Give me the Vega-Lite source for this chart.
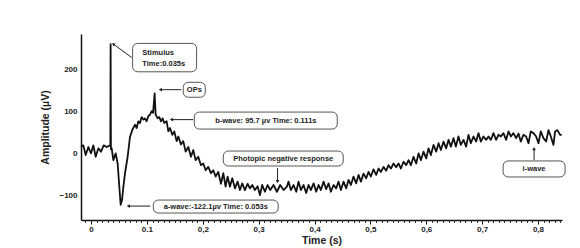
{
  "$schema": "https://vega.github.io/schema/vega-lite/v6.json",
  "width": 481,
  "height": 186,
  "autosize": {"type": "none"},
  "padding": {"left": 81, "top": 34, "right": 18, "bottom": 28},
  "background": "white",
  "config": {
    "view": {"stroke": null},
    "font": "Liberation Sans",
    "axis": {"labelFont": "Liberation Sans", "titleFont": "Liberation Sans", "labelFontWeight": "bold", "titleFontWeight": "bold", "labelColor": "#222", "titleColor": "#222", "domainColor": "#111", "domainWidth": 1.5, "tickColor": "#111", "grid": false}
  },
  "resolve": {"axis": {"x": "independent"}},
  "datasets": {
    "signal": [
      {"t": -0.0179, "v": 15}, {"t": -0.0138, "v": 19}, {"t": -0.0096, "v": -4}, {"t": -0.0048, "v": 15}, {"t": 0.0, "v": 0}, {"t": 0.0041, "v": 19}, {"t": 0.0083, "v": -8}, {"t": 0.0131, "v": 12}, {"t": 0.0178, "v": 4}, {"t": 0.0226, "v": 19}, {"t": 0.028, "v": 15}, {"t": 0.0339, "v": 19}, {"t": 0.0345, "v": 19}, {"t": 0.035, "v": 259}, {"t": 0.0356, "v": 10}, {"t": 0.0369, "v": 12}, {"t": 0.0399, "v": -16}, {"t": 0.0441, "v": 0}, {"t": 0.0476, "v": -24}, {"t": 0.0512, "v": -90}, {"t": 0.053, "v": -122}, {"t": 0.0555, "v": -110}, {"t": 0.0578, "v": -80}, {"t": 0.0608, "v": -47}, {"t": 0.0655, "v": -8}, {"t": 0.0697, "v": 39}, {"t": 0.0739, "v": 56}, {"t": 0.0787, "v": 68}, {"t": 0.0816, "v": 60}, {"t": 0.0846, "v": 76}, {"t": 0.0876, "v": 72}, {"t": 0.0906, "v": 86}, {"t": 0.0936, "v": 80}, {"t": 0.0965, "v": 83}, {"t": 0.0995, "v": 76}, {"t": 0.1025, "v": 88}, {"t": 0.1055, "v": 92}, {"t": 0.1085, "v": 100}, {"t": 0.111, "v": 96}, {"t": 0.1138, "v": 142}, {"t": 0.1156, "v": 92}, {"t": 0.1192, "v": 83}, {"t": 0.1222, "v": 86}, {"t": 0.1252, "v": 76}, {"t": 0.1281, "v": 83}, {"t": 0.1311, "v": 72}, {"t": 0.1353, "v": 76}, {"t": 0.1383, "v": 52}, {"t": 0.1413, "v": 60}, {"t": 0.1454, "v": 44}, {"t": 0.149, "v": 52}, {"t": 0.1532, "v": 29}, {"t": 0.1562, "v": 40}, {"t": 0.1609, "v": 21}, {"t": 0.1651, "v": 29}, {"t": 0.1693, "v": 4}, {"t": 0.1741, "v": 15}, {"t": 0.1788, "v": -8}, {"t": 0.183, "v": 8}, {"t": 0.1872, "v": -16}, {"t": 0.1919, "v": -8}, {"t": 0.1967, "v": -28}, {"t": 0.2009, "v": -24}, {"t": 0.2051, "v": -40}, {"t": 0.2098, "v": -32}, {"t": 0.2146, "v": -47}, {"t": 0.2188, "v": -40}, {"t": 0.223, "v": -55}, {"t": 0.2277, "v": -44}, {"t": 0.2325, "v": -72}, {"t": 0.2367, "v": -47}, {"t": 0.2408, "v": -79}, {"t": 0.2444, "v": -55}, {"t": 0.2486, "v": -79}, {"t": 0.2528, "v": -59}, {"t": 0.2576, "v": -83}, {"t": 0.2623, "v": -67}, {"t": 0.2665, "v": -87}, {"t": 0.2707, "v": -71}, {"t": 0.2754, "v": -87}, {"t": 0.2802, "v": -72}, {"t": 0.2844, "v": -83}, {"t": 0.2886, "v": -75}, {"t": 0.2933, "v": -87}, {"t": 0.2981, "v": -78}, {"t": 0.3023, "v": -99}, {"t": 0.3064, "v": -75}, {"t": 0.3112, "v": -91}, {"t": 0.316, "v": -75}, {"t": 0.3208, "v": -87}, {"t": 0.3267, "v": -75}, {"t": 0.3327, "v": -91}, {"t": 0.3386, "v": -75}, {"t": 0.3446, "v": -87}, {"t": 0.3506, "v": -79}, {"t": 0.3535, "v": -67}, {"t": 0.3577, "v": -87}, {"t": 0.3625, "v": -75}, {"t": 0.3673, "v": -91}, {"t": 0.3714, "v": -67}, {"t": 0.3756, "v": -87}, {"t": 0.3804, "v": -75}, {"t": 0.3851, "v": -94}, {"t": 0.3893, "v": -75}, {"t": 0.3935, "v": -87}, {"t": 0.3983, "v": -71}, {"t": 0.403, "v": -91}, {"t": 0.4072, "v": -75}, {"t": 0.4114, "v": -87}, {"t": 0.4162, "v": -67}, {"t": 0.4209, "v": -85}, {"t": 0.4251, "v": -71}, {"t": 0.4293, "v": -91}, {"t": 0.4341, "v": -75}, {"t": 0.4388, "v": -83}, {"t": 0.443, "v": -67}, {"t": 0.4472, "v": -87}, {"t": 0.452, "v": -67}, {"t": 0.4567, "v": -83}, {"t": 0.4609, "v": -63}, {"t": 0.4651, "v": -75}, {"t": 0.4698, "v": -55}, {"t": 0.4746, "v": -71}, {"t": 0.4788, "v": -51}, {"t": 0.483, "v": -67}, {"t": 0.4877, "v": -48}, {"t": 0.4925, "v": -59}, {"t": 0.4967, "v": -44}, {"t": 0.5009, "v": -55}, {"t": 0.5056, "v": -38}, {"t": 0.5104, "v": -51}, {"t": 0.5146, "v": -36}, {"t": 0.5188, "v": -44}, {"t": 0.5235, "v": -32}, {"t": 0.5283, "v": -41}, {"t": 0.5325, "v": -28}, {"t": 0.5367, "v": -36}, {"t": 0.5414, "v": -24}, {"t": 0.5462, "v": -33}, {"t": 0.5504, "v": -24}, {"t": 0.5546, "v": -36}, {"t": 0.5593, "v": -20}, {"t": 0.5641, "v": -28}, {"t": 0.5683, "v": -16}, {"t": 0.5725, "v": -28}, {"t": 0.5772, "v": -8}, {"t": 0.582, "v": -24}, {"t": 0.5862, "v": 0}, {"t": 0.5904, "v": -16}, {"t": 0.5951, "v": 4}, {"t": 0.5999, "v": -12}, {"t": 0.6041, "v": 12}, {"t": 0.6083, "v": -4}, {"t": 0.613, "v": 20}, {"t": 0.6178, "v": 4}, {"t": 0.622, "v": 24}, {"t": 0.6262, "v": 8}, {"t": 0.6309, "v": 28}, {"t": 0.6357, "v": 12}, {"t": 0.6399, "v": 32}, {"t": 0.6441, "v": 16}, {"t": 0.6488, "v": 36}, {"t": 0.653, "v": 16}, {"t": 0.6577, "v": 40}, {"t": 0.6619, "v": 20}, {"t": 0.6667, "v": 32}, {"t": 0.6714, "v": 16}, {"t": 0.6756, "v": 44}, {"t": 0.6798, "v": 24}, {"t": 0.6845, "v": 40}, {"t": 0.6893, "v": 28}, {"t": 0.6935, "v": 48}, {"t": 0.6977, "v": 28}, {"t": 0.7024, "v": 40}, {"t": 0.7072, "v": 32}, {"t": 0.7114, "v": 40}, {"t": 0.7156, "v": 32}, {"t": 0.7203, "v": 48}, {"t": 0.7251, "v": 32}, {"t": 0.7293, "v": 44}, {"t": 0.7335, "v": 40}, {"t": 0.7382, "v": 48}, {"t": 0.743, "v": 32}, {"t": 0.7472, "v": 52}, {"t": 0.7514, "v": 40}, {"t": 0.7561, "v": 48}, {"t": 0.7609, "v": 36}, {"t": 0.7651, "v": 47}, {"t": 0.7692, "v": 28}, {"t": 0.774, "v": 44}, {"t": 0.7788, "v": 40}, {"t": 0.783, "v": 24}, {"t": 0.7871, "v": 52}, {"t": 0.7919, "v": 48}, {"t": 0.7967, "v": 40}, {"t": 0.8009, "v": 24}, {"t": 0.805, "v": 52}, {"t": 0.8098, "v": 36}, {"t": 0.8146, "v": 28}, {"t": 0.8188, "v": 55}, {"t": 0.823, "v": 40}, {"t": 0.8277, "v": 20}, {"t": 0.8306, "v": 52}, {"t": 0.8348, "v": 55}, {"t": 0.8395, "v": 44}, {"t": 0.8425, "v": 44}
    ],
    "boxes": [
      {"name": "Stimulus", "x1": 0.0744, "x2": 0.1889, "y1": 193.4, "y2": 260.7},
      {"name": "OPs", "x1": 0.165, "x2": 0.2045, "y1": 133, "y2": 168.5},
      {"name": "b-wave", "x1": 0.1848, "x2": 0.4407, "y1": 57.6, "y2": 97.9},
      {"name": "a-wave", "x1": 0.1114, "x2": 0.3351, "y1": -141.5, "y2": -110.7},
      {"name": "PhNR", "x1": 0.2367, "x2": 0.4514, "y1": -30, "y2": 5.5},
      {"name": "i-wave", "x1": 0.7376, "x2": 0.8485, "y1": -56, "y2": -18}
    ],
    "labels": [
      {"text": "Stimulus", "x": 0.0918, "y": 237, "align": "left"},
      {"text": "Time:0.035s", "x": 0.0918, "y": 213, "align": "left"},
      {"text": "OPs", "x": 0.1848, "y": 151, "align": "center"},
      {"text": "b-wave: 95.7 µv Time: 0.111s", "x": 0.3128, "y": 77.7, "align": "center"},
      {"text": "a-wave:-122.1µv Time: 0.053s", "x": 0.2233, "y": -126, "align": "center"},
      {"text": "Photopic negative response", "x": 0.344, "y": -12.3, "align": "center"},
      {"text": "i-wave", "x": 0.793, "y": -37, "align": "center"}
    ],
    "arrows": [
      {"name": "Stimulus", "x": 0.0726, "y": 227.5, "hx": 0.0399, "hy": 259, "dir": "upleft"},
      {"name": "OPs", "x": 0.1615, "y": 151, "hx": 0.124, "hy": 151, "dir": "left"},
      {"name": "b-wave", "x": 0.183, "y": 80, "hx": 0.144, "hy": 80, "dir": "left"},
      {"name": "a-wave", "x": 0.106, "y": -125, "hx": 0.0667, "hy": -125, "dir": "left"},
      {"name": "PhNR", "x": 0.3338, "y": -35, "hx": 0.3338, "hy": -67, "dir": "down"},
      {"name": "i-wave", "x": 0.793, "y": -16, "hx": 0.793, "hy": 11, "dir": "up"}
    ]
  },
  "layer": [
    {
      "data": {"name": "signal"},
      "mark": {"type": "line", "color": "#111", "strokeWidth": 1.8, "strokeJoin": "round"},
      "encoding": {
        "x": {"field": "t", "type": "quantitative", "scale": {"domain": [-0.018, 0.843], "nice": false, "zero": false},
          "axis": {"orient": "bottom", "title": "Time (s)", "titleFontSize": 10.5, "titlePadding": 2, "labelFontSize": 8, "tickSize": 4, "labelPadding": 1,
            "values": [0, 0.1, 0.2, 0.3, 0.4, 0.5, 0.6, 0.7, 0.8],
            "labelExpr": "datum.value == 0 ? '0' : (datum.value < 0.15 ? '0.1' : replace(format(datum.value, '.1f'), '.', ','))",
            "labelFlush": false, "labelOverlap": false}},
        "y": {"field": "v", "type": "quantitative", "scale": {"domain": [-158, 283], "nice": false, "zero": false},
          "axis": {"title": "Amplitude (µV)", "titleFontSize": 10.5, "titlePadding": 8, "labelFontSize": 8, "ticks": false, "labelPadding": 4, "values": [-100, 0, 100, 200]}}
      }
    },
    {
      "data": {"name": "arrows"},
      "mark": {"type": "rule", "color": "#222", "strokeWidth": 1},
      "encoding": {
        "x": {"field": "x", "type": "quantitative",
          "axis": {"orient": "bottom", "title": null, "labels": false, "domain": false, "tickSize": 2.5, "tickColor": "#333",
            "values": [-0.01, 0.01, 0.02, 0.03, 0.04, 0.05, 0.06, 0.07, 0.08, 0.09, 0.11, 0.12, 0.13, 0.14, 0.15, 0.16, 0.17, 0.18, 0.19, 0.21, 0.22, 0.23, 0.24, 0.25, 0.26, 0.27, 0.28, 0.29, 0.31, 0.32, 0.33, 0.34, 0.35, 0.36, 0.37, 0.38, 0.39, 0.41, 0.42, 0.43, 0.44, 0.45, 0.46, 0.47, 0.48, 0.49, 0.51, 0.52, 0.53, 0.54, 0.55, 0.56, 0.57, 0.58, 0.59, 0.61, 0.62, 0.63, 0.64, 0.65, 0.66, 0.67, 0.68, 0.69, 0.71, 0.72, 0.73, 0.74, 0.75, 0.76, 0.77, 0.78, 0.79, 0.81, 0.82, 0.83, 0.84]}},
        "y": {"field": "y", "type": "quantitative"},
        "x2": {"field": "hx"},
        "y2": {"field": "hy"}
      }
    },
    {
      "data": {"name": "arrows"},
      "transform": [{"filter": "datum.dir == 'left'"}],
      "mark": {"type": "point", "shape": "triangle-left", "filled": true, "color": "#222", "size": 14, "opacity": 1},
      "encoding": {"x": {"field": "hx", "type": "quantitative", "axis": null}, "y": {"field": "hy", "type": "quantitative"}}
    },
    {
      "data": {"name": "arrows"},
      "transform": [{"filter": "datum.dir == 'up'"}],
      "mark": {"type": "point", "shape": "triangle-up", "filled": true, "color": "#222", "size": 14, "opacity": 1},
      "encoding": {"x": {"field": "hx", "type": "quantitative", "axis": null}, "y": {"field": "hy", "type": "quantitative"}}
    },
    {
      "data": {"name": "arrows"},
      "transform": [{"filter": "datum.dir == 'down'"}],
      "mark": {"type": "point", "shape": "triangle-down", "filled": true, "color": "#222", "size": 14, "opacity": 1},
      "encoding": {"x": {"field": "hx", "type": "quantitative", "axis": null}, "y": {"field": "hy", "type": "quantitative"}}
    },
    {
      "data": {"name": "arrows"},
      "transform": [{"filter": "datum.dir == 'upleft'"}],
      "mark": {"type": "point", "shape": "triangle-up", "angle": 306, "filled": true, "color": "#222", "size": 14, "opacity": 1},
      "encoding": {"x": {"field": "hx", "type": "quantitative", "axis": null}, "y": {"field": "hy", "type": "quantitative"}}
    },
    {
      "data": {"name": "boxes"},
      "mark": {"type": "rect", "fill": "white", "stroke": "#555", "strokeWidth": 1, "cornerRadius": 5, "clip": false},
      "encoding": {
        "x": {"field": "x1", "type": "quantitative", "axis": null},
        "x2": {"field": "x2"},
        "y": {"field": "y1", "type": "quantitative"},
        "y2": {"field": "y2"}
      }
    },
    {
      "data": {"name": "labels"},
      "transform": [{"filter": "datum.align == 'center'"}],
      "mark": {"type": "text", "font": "Liberation Sans", "fontWeight": "bold", "fontSize": 7.5, "color": "#222", "align": "center", "baseline": "middle"},
      "encoding": {"x": {"field": "x", "type": "quantitative", "axis": null}, "y": {"field": "y", "type": "quantitative"}, "text": {"field": "text"}}
    },
    {
      "data": {"name": "labels"},
      "transform": [{"filter": "datum.align == 'left'"}],
      "mark": {"type": "text", "font": "Liberation Sans", "fontWeight": "bold", "fontSize": 7.5, "color": "#222", "align": "left", "baseline": "middle"},
      "encoding": {"x": {"field": "x", "type": "quantitative", "axis": null}, "y": {"field": "y", "type": "quantitative"}, "text": {"field": "text"}}
    }
  ]
}
